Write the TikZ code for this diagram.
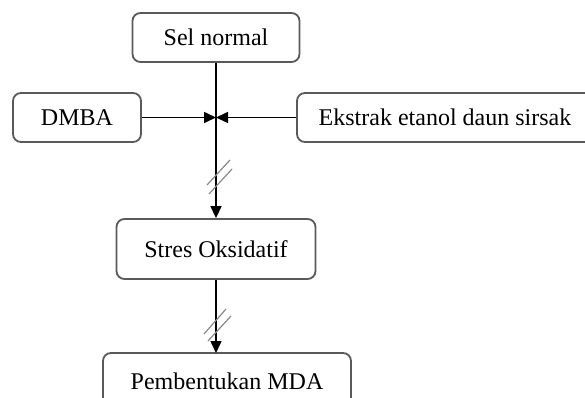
\documentclass[tikz,border=0pt]{standalone}
\usepackage{fontspec}
\setmainfont{Liberation Serif}
\usetikzlibrary{arrows.meta}
\definecolor{boxgray}{HTML}{5A5A5A}
\definecolor{slashgray}{HTML}{8A8A8A}
\begin{document}
\begin{tikzpicture}[x=1pt,y=-1pt,
  box/.style={draw=boxgray, line width=1.8pt, rounded corners=8pt, inner sep=0pt,
    font=\fontsize{24}{28}\selectfont, text=black},
  conn/.style={line width=1.6pt, -{Triangle[length=12pt,width=11pt]}},
  slash/.style={draw=slashgray, line width=1.2pt}]
\useasboundingbox (0,0) rectangle (585,398);
\clip (0,0) rectangle (585,398);
\fill[white] (0,0) rectangle (585,398);
\node[box, minimum width=167pt, minimum height=49pt] (sel) at (216,37.5) {Sel normal};
\node[box, minimum width=128pt, minimum height=49pt] (dmba) at (77,117.5) {DMBA};
\node[box, minimum width=296pt, minimum height=49pt] (eks) at (445,117.5) {Ekstrak etanol daun sirsak};
\node[box, minimum width=199pt, minimum height=60pt] (stres) at (216,249) {Stres Oksidatif};
\node[box, minimum width=248pt, minimum height=56pt] (pemb) at (227,381) {Pembentukan MDA};
\coordinate (j) at (216,117.5);
\coordinate (pt) at (216,353);
\draw[conn] (sel.south) -- (stres.north);
\draw[conn] (dmba.east) -- (j);
\draw[conn] (eks.west) -- (j);
\draw[conn] (stres.south) -- (pt);
\draw[slash] (207,185) -- (230,160);
\draw[slash] (209,194) -- (232,169);
\draw[slash] (204,334) -- (226,309);
\draw[slash] (208,341) -- (231,316);
\end{tikzpicture}
\end{document}
